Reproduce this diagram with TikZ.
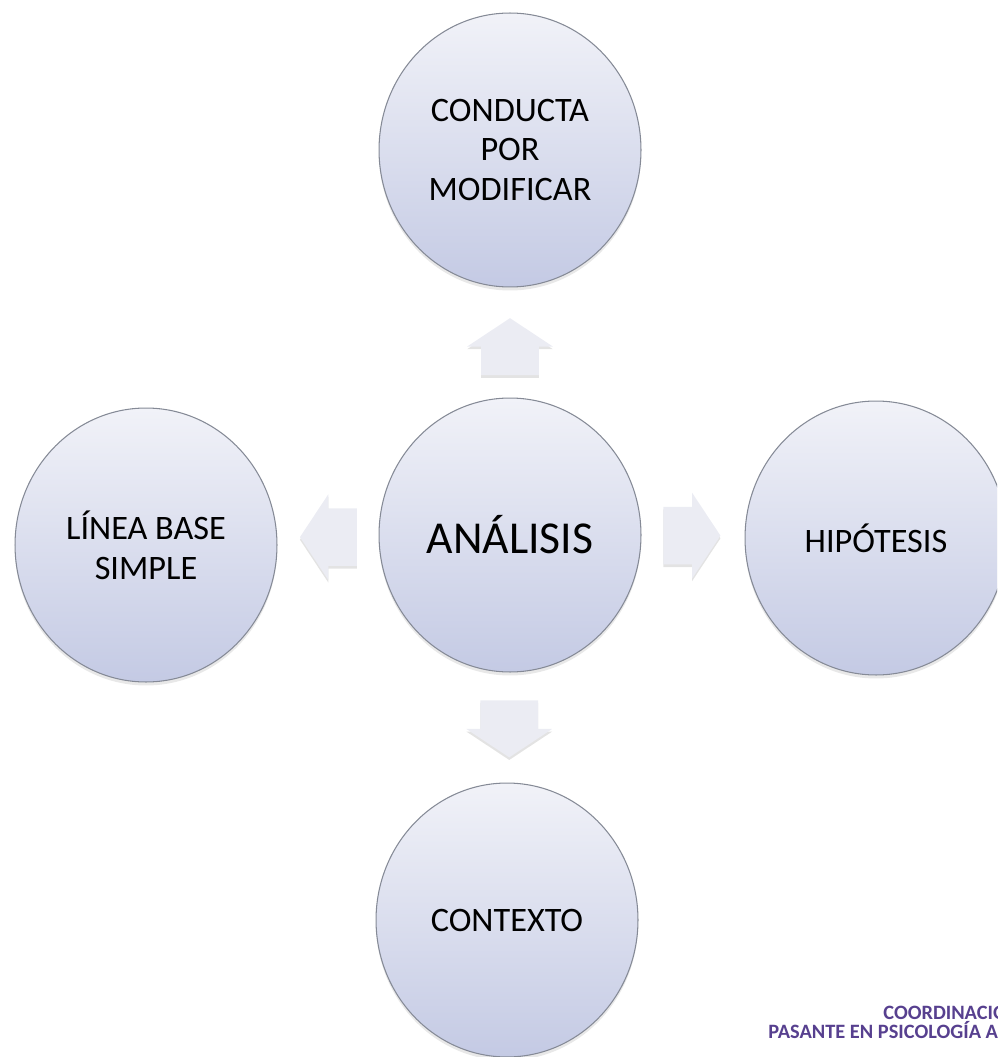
\documentclass[tikz,border=0pt]{standalone}
\usepackage{fontspec}
\setmainfont{Carlito}
\usetikzlibrary{calc,positioning,shapes.geometric,shapes.arrows,shadows}
\definecolor{BubbleTop}{HTML}{F1F2F8}
\definecolor{BubbleBottom}{HTML}{C4CAE4}
\definecolor{BubbleLine}{HTML}{858A96}
\definecolor{ArrowFill}{HTML}{EBECF3}
\definecolor{Purple}{HTML}{57408F}

\begin{document}
\begin{tikzpicture}[
  x=0.02cm,y=-0.02cm,
  bubble/.style={ellipse, draw=BubbleLine, line width=0.6pt, top color=BubbleTop, bottom color=BubbleBottom, minimum width=5.24cm, minimum height=5.48cm, inner sep=0pt, align=center, font=\fontsize{19.5}{22.7}\selectfont, drop shadow={shadow xshift=0pt, shadow yshift=-2pt, opacity=0.18}},
  core/.style={bubble, font=\fontsize{26}{30}\selectfont},
  blockarr/.style={single arrow, anchor=tail, fill=ArrowFill, inner xsep=0pt, inner ysep=0.57cm, minimum height=1.14cm, single arrow head extend=0.28cm, single arrow tip angle=113, drop shadow={shadow xshift=0pt, shadow yshift=-1.5pt, opacity=0.22}},
  wmark/.style={font=\fontsize{11.6}{13}\selectfont\bfseries, text=Purple, inner sep=0pt}
]
  \clip (0,0) rectangle (997,1057);

  \node[bubble] (conducta) at (510,150) {CONDUCTA\\POR\\MODIFICAR};
  \node[core] (analisis) at (510,535) {ANÁLISIS};
  \node[bubble] (linea) at (146,545) {LÍNEA BASE\\SIMPLE};
  \node[bubble] (hipotesis) at (876,538) {HIPÓTESIS};
  \node[bubble] (contexto) at (507,920) {CONTEXTO};

  \node[blockarr, rotate=90] (aUp) at ($(analisis.north)!0.2!(conducta.south)$) {};
  \node[blockarr, rotate=-90] (aDown) at ($(analisis.south)!0.25!(contexto.north)$) {};
  \node[blockarr, rotate=180] (aLeft) at ($(analisis.west)!0.21!(linea.east)$) {};
  \node[blockarr] (aRight) at ($(analisis.east)!0.21!(hipotesis.west)$) {};

  \node[wmark, anchor=base west] (coord) at (883,1019) {COORDINACIÓN};
  \node[wmark, anchor=base west] (pasante) at (768,1038) {PASANTE EN PSICOLOGÍA A};
\end{tikzpicture}
\end{document}
